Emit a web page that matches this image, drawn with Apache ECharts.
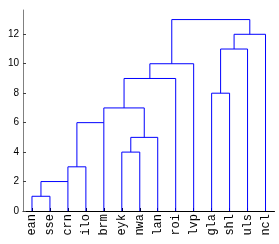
<!DOCTYPE html>
<html><head><meta charset="utf-8">
<script src="https://cdn.jsdelivr.net/npm/echarts@6/dist/echarts.min.js"></script>
<style>html,body{margin:0;padding:0;background:#fff}#c{width:279px;height:244px}</style>
</head><body><div id="c"></div>
<script>
// Leaf labels (in dendrogram order)
const leaves = ['ean','sse','crn','ilo','brm','eyk','nwa','lan','roi','lvp','gla','shl','uls','ncl'];
// Links: left leg x, left leg bottom, right leg x, right leg bottom, link height (data units)
const linkLeftX    = [1, 1.5, 3, 3.5, 6, 6.5, 5, 6.125, 7.5625, 11, 11.5, 12.25, 8.78125];
const linkLeftY    = [0, 1,   2, 3,   0, 4,   6, 7,     9,      0,  8,    11,    10];
const linkRightX   = [2, 3,   4, 5,   7, 8,   7.25, 9,  10,     12, 13,   14,    13.125];
const linkRightY   = [0, 0,   0, 0,   0, 0,   5, 0,     0,      0,  0,    0,     12];
const linkHeight   = [1, 2,   3, 6,   4, 5,   7, 9,     10,     8,  11,   12,    13];
const yTickLabels = ['0', '2', '4', '6', '8', '10', '12'];

const series = linkHeight.map((h, i) => ({
  type: 'line', xAxisIndex: 1, yAxisIndex: 0,
  data: [[linkLeftX[i], linkLeftY[i]], [linkLeftX[i], h], [linkRightX[i], h], [linkRightX[i], linkRightY[i]]],
  showSymbol: false, symbol: 'none', silent: true, animation: false,
  lineStyle: { color: '#0000ff', width: 1 }
}));

const chart = echarts.init(document.getElementById('c'), null, { renderer: 'canvas' });
chart.setOption({
  animation: false,
  grid: { left: 23, right: 4.5, top: 10, bottom: 33, containLabel: false },
  xAxis: [{
    type: 'category', data: leaves, boundaryGap: true, position: 'bottom',
    axisLine: { show: true, lineStyle: { color: '#000', width: 1 } },
    axisTick: { show: true, inside: true, alignWithLabel: true, length: 3, lineStyle: { color: '#000' } },
    axisLabel: { rotate: 90, margin: 3, fontFamily: 'Liberation Mono', fontSize: 12, color: '#000' },
    splitLine: { show: false }
  }, {
    type: 'value', min: 0.5, max: 14.5, show: false
  }],
  yAxis: [{
    type: 'value', min: 0, max: 13.65, interval: 2,
    axisLine: { show: true, lineStyle: { color: '#808080', width: 1 } },
    axisTick: { show: true, inside: true, length: 3, lineStyle: { color: '#404040' } },
    axisLabel: { margin: 4, fontFamily: 'Liberation Sans', fontSize: 10, color: '#000',
      showMaxLabel: false,
      formatter: v => yTickLabels.indexOf(String(v)) >= 0 ? String(v) : '' },
    splitLine: { show: false }
  }],
  series: series
});
</script></body></html>
